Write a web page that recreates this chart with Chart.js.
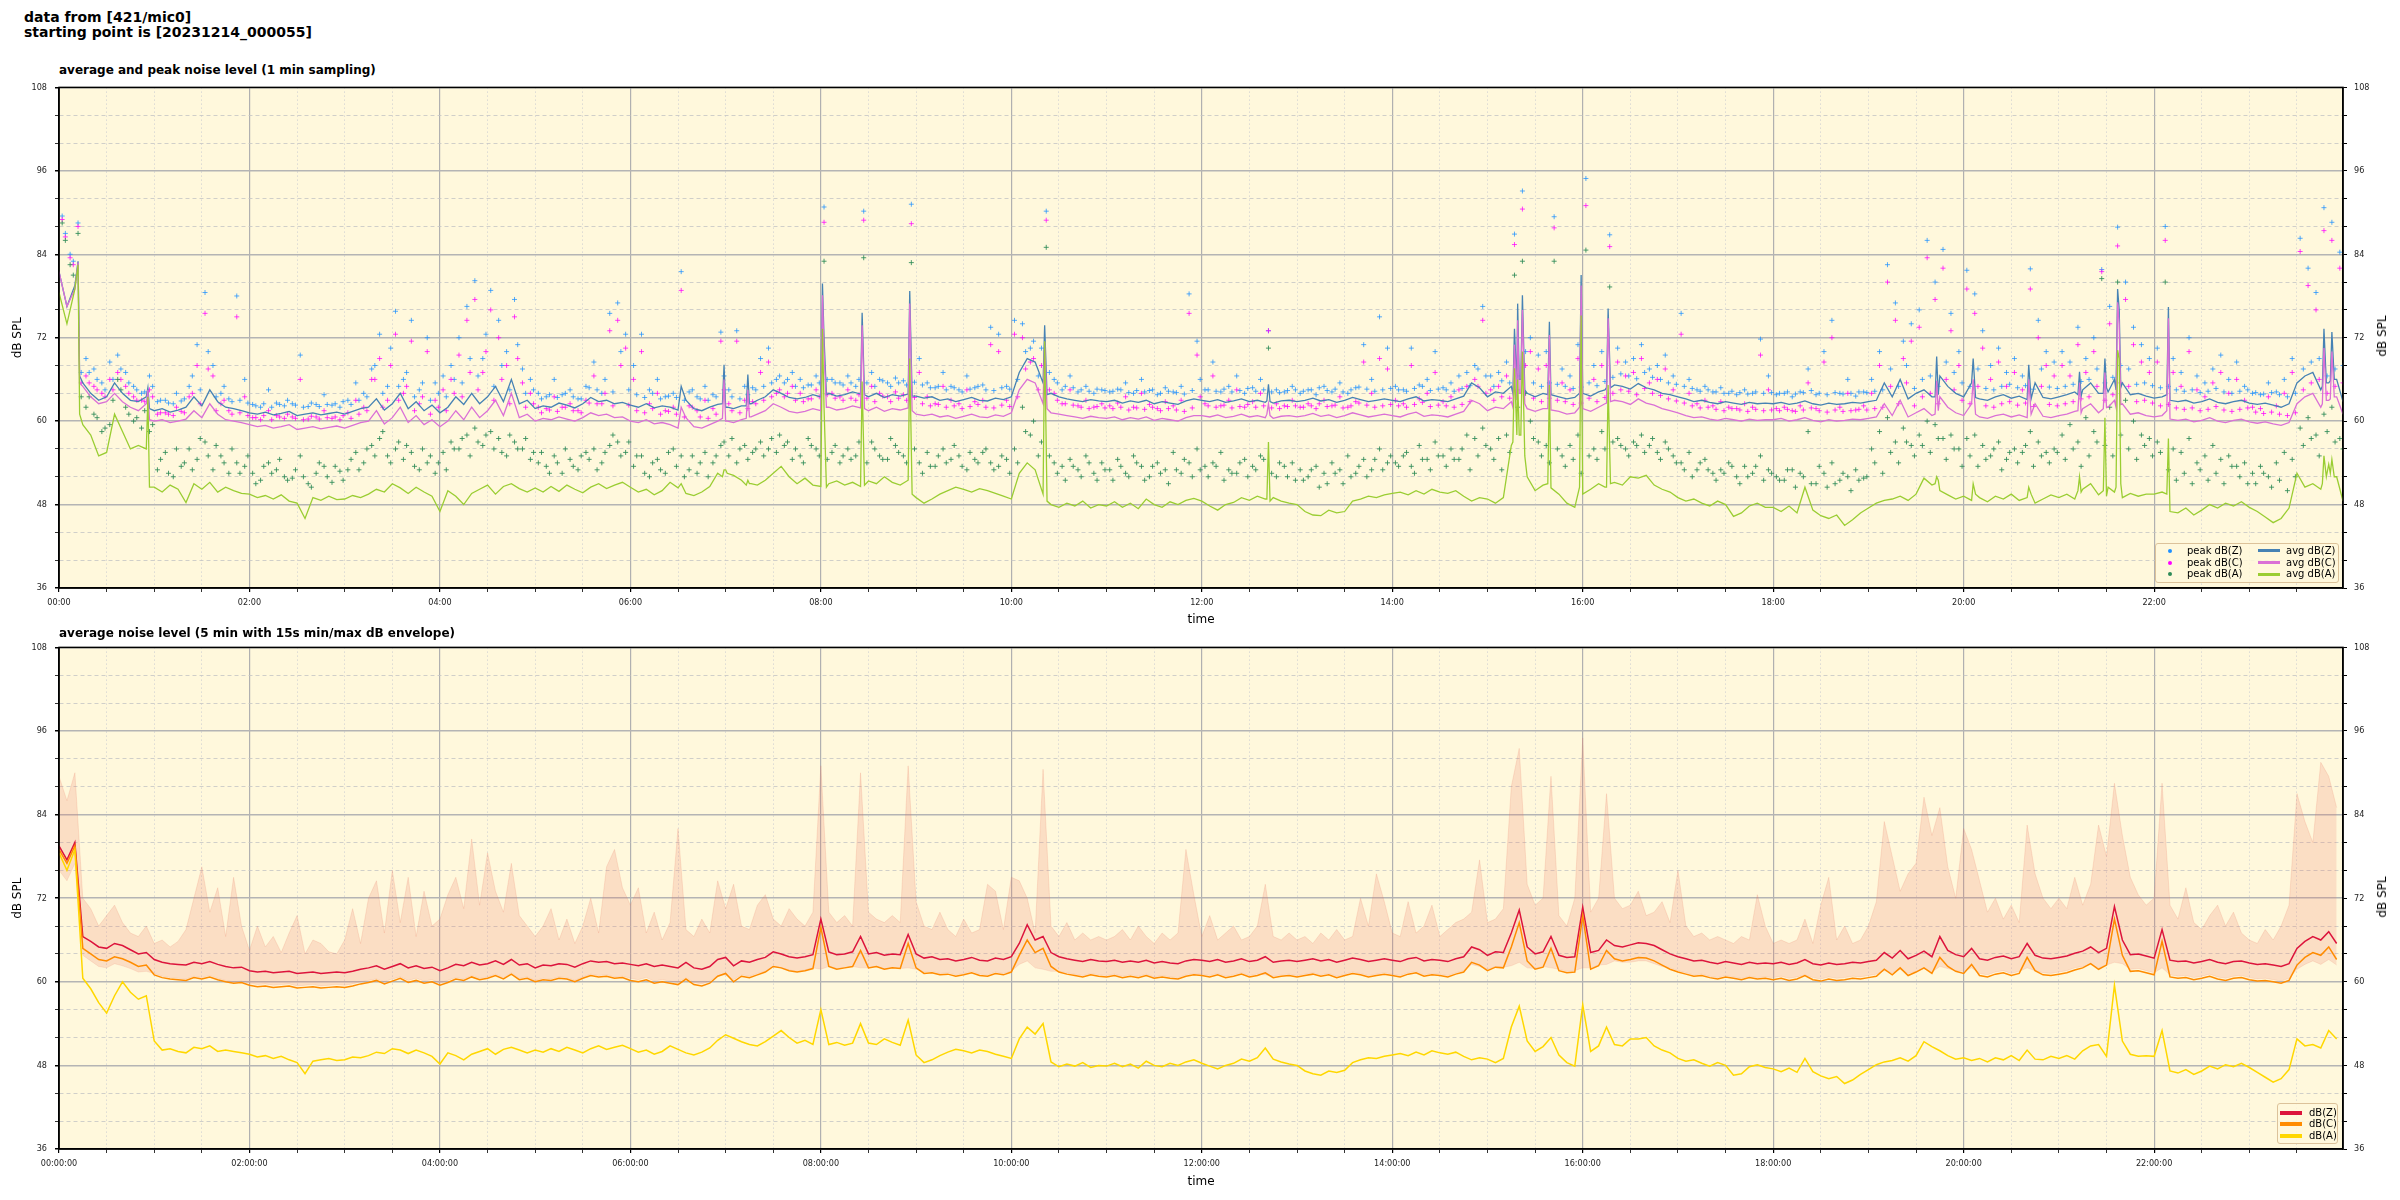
<!DOCTYPE html>
<html>
<head>
<meta charset="utf-8">
<script src="https://cdn.jsdelivr.net/npm/chart.js@4.4.1/dist/chart.umd.min.js"></script>
<style>
  html, body { margin: 0; padding: 0; background: #fff; }
  body { width: 2400px; height: 1200px; position: relative; overflow: hidden; font-family: 'DejaVu Sans', sans-serif; color: #000; }
  canvas { position: absolute; left: 0; }
  #head { position: absolute; left: 24px; top: 10px; font-weight: bold; font-size: 14px; line-height: 15px; white-space: pre; }
  .ttl { position: absolute; left: 59px; font-weight: bold; font-size: 12px; line-height: 14px; white-space: nowrap; }
  .ylab { position: absolute; font-size: 12px; white-space: nowrap; transform: translate(-50%, -50%) rotate(-90deg); }
  .leg { position: absolute; background: rgba(255, 248, 220, 0.85); border: 1px solid #dcc29a; border-radius: 3px; box-sizing: border-box; }
  .leg span { position: absolute; }
  .leg .t { font-size: 10px; line-height: 12px; white-space: nowrap; }
  .leg .d { width: 4px; height: 4px; border-radius: 50%; }
</style>
</head>
<body>
<div id="head">data from [421/mic0]
starting point is [20231214_000055]</div>
<div class="ttl" style="top:63px">average and peak noise level (1 min sampling)</div>
<canvas id="top" width="2400" height="560" style="top:74px"></canvas>
<div class="ylab" style="left:2382px;top:336px">dB SPL</div>
<div class="leg" style="left:2155px;top:543px;width:184px;height:40px">
  <span class="d" style="left:12px;top:4.5px;background:#1e90ff"></span><span class="t" style="left:31px;top:0.5px">peak dB(Z)</span>
  <span class="d" style="left:12px;top:16.5px;background:#ff00ff"></span><span class="t" style="left:31px;top:12.5px">peak dB(C)</span>
  <span class="d" style="left:12px;top:28.3px;background:#2e8b57"></span><span class="t" style="left:31px;top:24.3px">peak dB(A)</span>
  <span style="left:102px;top:5px;width:22px;height:3px;background:#4682b4"></span><span class="t" style="left:130px;top:0.5px">avg dB(Z)</span>
  <span style="left:102px;top:17px;width:22px;height:3px;background:#da70d6"></span><span class="t" style="left:130px;top:12.5px">avg dB(C)</span>
  <span style="left:102px;top:28.8px;width:22px;height:3px;background:#9acd32"></span><span class="t" style="left:130px;top:24.3px">avg dB(A)</span>
</div>
<div class="ttl" style="top:626px">average noise level (5 min with 15s min/max dB envelope)</div>
<canvas id="bottom" width="2400" height="566" style="top:634px"></canvas>
<div class="ylab" style="left:2382px;top:897px">dB SPL</div>
<div class="leg" style="left:2277px;top:1103px;width:61px;height:41px">
  <span style="left:2px;top:6.5px;width:22px;height:4px;background:#dc143c"></span><span class="t" style="left:31px;top:2.5px">dB(Z)</span>
  <span style="left:2px;top:18px;width:22px;height:4px;background:#ff8c00"></span><span class="t" style="left:31px;top:14px">dB(C)</span>
  <span style="left:2px;top:29.5px;width:22px;height:4px;background:#ffd700"></span><span class="t" style="left:31px;top:25.5px">dB(A)</span>
</div>
<script>
// 1 min chart: averages read every 5 min (00:00 .. 23:55)
const avgZ = [
  81.5, 76.5, 79.5, 65.5, 64.0, 63.0, 63.5, 65.5, 64.0, 63.0, 62.8, 63.5,
  61.5, 61.8, 61.3, 61.6, 62.0, 63.5, 62.2, 64.5, 62.8, 62.0, 61.8, 61.5,
  61.2, 61.0, 61.3, 60.9, 61.1, 61.4, 60.8, 61.0, 61.2, 60.9, 61.1, 61.3,
  61.0, 61.4, 61.8, 62.0, 63.2, 61.6, 62.5, 64.0, 61.8, 62.8, 61.5, 62.3,
  61.2, 62.0, 63.5, 62.4, 64.0, 62.5, 63.5, 65.0, 62.8, 66.0, 62.5, 63.0,
  61.8, 62.2, 62.0, 62.6, 62.3, 61.9, 62.5, 63.4, 62.8, 63.0, 62.5, 62.7,
  62.3, 62.0, 62.5, 61.9, 62.2, 62.0, 61.6, 63.0, 61.8, 61.5, 62.0, 62.4,
  62.0, 61.8, 62.2, 62.5, 63.0, 63.5, 64.5, 64.0, 63.4, 63.2, 63.4, 63.8,
  63.5, 64.0, 63.6, 63.8, 64.2, 63.9, 63.5, 64.0, 63.4, 63.8, 63.6, 63.9,
  63.6, 63.3, 63.5, 63.0, 63.2, 62.8, 63.1, 63.4, 63.0, 62.9, 63.3, 63.1,
  63.5, 67.0, 69.0, 68.5, 65.5, 64.0, 63.5, 63.2, 63.0, 62.8, 63.1, 62.9,
  62.8, 63.0, 62.6, 62.9, 62.7, 63.0, 62.5, 62.8, 62.6, 62.4, 62.9, 63.2,
  63.0, 62.8, 63.1, 62.7, 62.9, 63.2, 62.8, 63.0, 62.7, 62.6, 62.9, 63.0,
  62.8, 63.0, 63.3, 62.9, 63.1, 62.7, 63.0, 63.4, 63.1, 62.8, 63.0, 63.2,
  63.0, 62.8, 63.2, 63.5, 62.9, 63.1, 63.0, 62.8, 63.2, 63.6, 65.5, 64.8,
  63.5, 64.2, 64.0, 65.0, 66.0, 64.0, 63.5, 64.0, 63.8, 63.5, 63.2, 63.4,
  64.0, 63.6, 64.2, 64.8, 65.2, 65.0, 64.6, 65.4, 64.8, 64.5, 64.0, 63.8,
  63.5, 63.2, 62.8, 63.0, 62.7, 62.5, 62.8, 62.6, 62.4, 62.7, 62.5, 62.6,
  62.5, 62.7, 62.4, 62.6, 62.9, 62.5, 62.3, 62.6, 62.4, 62.5, 62.7, 62.6,
  62.8, 63.0, 65.5, 63.5, 66.0, 63.2, 64.0, 64.5, 63.5, 66.5, 65.0, 64.0,
  63.5, 65.5, 63.2, 63.0, 63.5, 63.8, 63.3, 63.6, 63.1, 65.5, 63.4, 63.2,
  63.5, 63.8, 64.2, 64.5, 65.5, 64.0, 64.8, 66.0, 65.5, 63.8, 64.0, 63.6,
  63.3, 63.5, 63.0, 62.8, 63.0, 62.6, 62.8, 63.2, 62.7, 62.5, 62.8, 63.0,
  62.6, 62.4, 62.6, 62.3, 62.0, 62.5, 65.5, 66.5, 67.0, 64.5, 65.5, 66.0
];
const avgC = [
  81.5, 76.5, 79.0, 65.0, 63.5, 62.5, 62.8, 64.0, 62.8, 62.0, 61.5, 62.5,
  60.0, 60.2, 59.8, 60.0, 60.3, 61.5, 60.5, 62.5, 61.0, 60.2, 60.0, 59.8,
  59.5, 59.2, 59.4, 59.0, 59.2, 59.5, 58.8, 59.0, 59.2, 58.9, 59.1, 59.3,
  59.0, 59.4, 59.8, 60.0, 61.5, 59.6, 60.5, 62.0, 59.8, 60.8, 59.5, 60.2,
  59.2, 60.0, 61.5, 60.2, 62.0, 60.5, 61.5, 63.0, 60.8, 64.0, 60.5, 61.0,
  60.0, 60.4, 60.2, 60.6, 60.3, 60.0, 60.5, 61.2, 60.8, 61.0, 60.5, 60.6,
  60.0, 59.8, 60.2, 59.6, 59.8, 59.5, 59.0, 60.5, 59.2, 59.0, 59.5, 60.0,
  60.0, 59.8, 60.2, 60.6, 61.0, 61.5, 62.5, 62.0, 61.4, 61.2, 61.4, 61.8,
  61.5, 62.0, 61.6, 61.8, 62.2, 61.9, 61.5, 62.0, 61.4, 61.8, 61.6, 61.9,
  61.0, 60.8, 61.0, 60.6, 60.8, 60.4, 60.7, 61.0, 60.6, 60.5, 60.9, 60.7,
  61.2, 64.5, 66.0, 65.5, 62.5, 61.2, 61.0, 60.8, 60.6, 60.4, 60.7, 60.5,
  60.4, 60.6, 60.2, 60.5, 60.3, 60.6, 60.1, 60.4, 60.2, 60.0, 60.5, 60.8,
  60.8, 60.6, 60.9, 60.5, 60.7, 61.0, 60.6, 60.8, 60.5, 60.4, 60.7, 60.8,
  60.6, 60.8, 61.1, 60.7, 60.9, 60.5, 60.8, 61.2, 60.9, 60.6, 60.8, 61.0,
  60.8, 60.6, 61.0, 61.3, 60.7, 60.9, 60.8, 60.6, 61.0, 61.4, 63.0, 62.5,
  61.5, 62.0, 61.8, 62.8, 64.0, 61.8, 61.4, 61.8, 61.6, 61.4, 61.0, 61.2,
  61.8, 61.4, 62.0, 62.6, 63.0, 62.8, 62.4, 63.2, 62.6, 62.3, 61.8, 61.5,
  61.2, 60.8, 60.5, 60.6, 60.3, 60.1, 60.4, 60.2, 60.0, 60.3, 60.1, 60.2,
  60.2, 60.4, 60.0, 60.2, 60.5, 60.1, 59.9, 60.2, 60.0, 60.1, 60.3, 60.2,
  60.4, 60.6, 62.5, 60.8, 63.0, 60.6, 61.2, 61.8, 60.8, 63.5, 62.0, 61.2,
  60.8, 62.5, 60.6, 60.4, 60.8, 61.0, 60.6, 60.9, 60.5, 62.5, 60.7, 60.5,
  60.8, 61.0, 61.4, 61.8, 62.5, 61.2, 62.0, 63.0, 62.5, 61.0, 61.2, 60.8,
  60.6, 60.8, 60.3, 60.1, 60.3, 59.9, 60.1, 60.5, 60.0, 59.8, 60.1, 60.3,
  59.9, 59.7, 59.9, 59.6, 59.4, 59.8, 62.5, 63.5, 64.0, 62.0, 63.0, 63.5
];
const avgA = [
  78.5, 74.0, 79.0, 59.5, 58.0, 55.0, 55.5, 61.0, 58.5, 56.0, 56.5, 56.0,
  50.5, 49.8, 50.8, 50.2, 48.3, 51.0, 50.2, 51.2, 49.8, 50.5, 50.0, 49.6,
  49.5, 49.0, 49.3, 48.8, 49.4, 48.5, 48.2, 46.0, 49.0, 48.6, 49.2, 48.7,
  48.8, 49.3, 49.0, 49.5, 50.2, 49.8, 51.0, 50.4, 49.6, 50.5, 49.8, 49.2,
  47.0, 50.0, 49.2, 48.0, 49.6, 50.2, 50.8, 49.5, 50.6, 51.0, 50.3, 49.8,
  50.4, 49.8, 50.6, 49.9, 50.8, 50.2, 49.7, 50.5, 51.0, 50.3, 50.8, 51.2,
  50.5, 49.8, 50.2, 49.4, 50.0, 51.2, 50.4, 49.6, 49.3, 49.8, 50.6, 52.5,
  53.0, 52.2, 51.5, 51.0, 50.8, 51.5, 52.5, 53.5, 52.0, 51.0, 51.8, 50.8,
  50.6, 51.0, 51.4, 50.8, 51.2, 50.6, 51.4, 51.0, 52.0, 51.2, 50.8, 51.5,
  49.0, 48.2, 48.8, 49.5, 50.0, 50.5, 50.2, 49.8, 50.3, 50.0, 49.6, 49.2,
  48.8, 52.5, 54.0, 53.0, 49.5, 48.0, 47.6, 48.2, 47.8, 48.5, 47.5, 48.0,
  47.8, 48.4, 47.6, 48.2, 47.4, 48.8, 48.0, 47.6, 48.4, 48.0, 48.6, 48.9,
  48.5, 47.8, 47.2, 48.0, 48.3, 49.0, 48.6, 49.2, 48.8, 49.0, 48.5, 48.2,
  48.0, 47.0, 46.5, 46.4, 47.2, 46.8, 47.0, 48.5, 48.8, 49.2, 49.0, 49.4,
  49.6, 49.8, 49.4, 50.0, 49.5, 50.2, 49.8, 49.6, 50.0, 49.2, 48.5, 49.0,
  48.8, 48.2, 49.0, 56.5, 58.0, 52.0, 50.0, 50.8, 50.4, 49.5, 48.2, 47.6,
  49.5, 50.2, 51.0, 50.5, 51.2, 50.8, 52.0, 51.8, 52.2, 50.8, 50.2, 49.8,
  49.0, 48.5, 48.8, 48.2, 47.8, 48.5, 48.0, 46.3, 46.8, 47.8, 48.2, 47.6,
  47.6, 47.0, 47.8, 46.8, 50.5, 47.2, 46.4, 46.0, 46.5, 45.0, 45.8, 46.8,
  47.5, 48.2, 48.6, 48.8, 49.2, 48.6, 49.5, 51.8, 50.8, 50.0, 49.4, 48.8,
  49.2, 48.6, 49.0, 48.4, 49.2, 48.8, 49.5, 48.6, 49.0, 48.2, 48.8, 49.4,
  49.0, 49.5, 48.8, 50.2, 51.0, 49.4, 49.2, 49.8, 49.0, 49.6, 49.2, 49.5,
  49.5, 49.8, 47.0, 46.8, 47.5, 46.5, 47.2, 48.0, 47.5, 48.2, 47.8, 48.4,
  47.6, 47.0, 46.2, 45.4, 46.0, 47.5, 52.5, 50.5, 51.0, 50.2, 53.8, 52.0
];
// short loud events in the 1 min averages (minute of day, then dB values)
const spikeTimes = [12, 13, 56, 57, 392, 418, 419, 421, 433, 434, 436, 481, 482, 483.5, 506, 507.5, 536, 537.5,
  621, 622.5, 761, 762, 763, 916, 917, 918.5, 919, 921, 922, 923.5, 938, 939, 958, 959, 974, 976, 977.5,
  1182, 1183, 1184, 1206, 1207.5, 1241, 1242.5, 1272, 1273, 1274, 1288, 1289, 1291, 1296, 1297, 1298, 1299,
  1328, 1329, 1426, 1427, 1428.5, 1431, 1432, 1433.5, 1439];
const spikeZ = [83.0, 66.5, 64.8, 61.8, 65.0, 62.5, 68.1, 62.0, 62.2, 66.7, 62.5, 79.8, 72.0, 63.8, 75.6, 63.8, 78.7, 63.6,
  73.8, 63.8, 62.9, 65.3, 62.8, 64.0, 73.3, 65.0, 76.9, 66.0, 78.1, 64.5, 63.8, 74.3, 64.0, 81.0, 64.5, 76.2, 64.8,
  63.5, 69.3, 63.8, 69.0, 63.4, 68.1, 63.2, 63.8, 67.1, 63.6, 64.0, 69.0, 64.2, 64.5, 79.0, 76.0, 64.8,
  63.8, 76.4, 65.0, 73.3, 65.5, 65.8, 72.8, 66.0, 62.8];
const spikeC = [82.8, 65.5, 64.5, 60.2, 62.0, 60.4, 66.0, 60.0, 60.4, 64.5, 60.6, 78.1, 70.0, 62.0, 73.8, 61.8, 76.9, 61.5,
  71.4, 61.8, 61.0, 62.5, 60.8, 62.0, 71.0, 63.0, 74.5, 64.0, 76.0, 62.5, 61.8, 72.4, 62.0, 79.5, 62.5, 74.8, 62.8,
  61.0, 65.8, 61.5, 66.0, 61.0, 66.0, 61.0, 61.5, 65.5, 61.2, 61.8, 67.0, 62.0, 62.0, 77.1, 74.0, 62.4,
  61.5, 74.8, 62.5, 70.5, 63.0, 63.2, 70.0, 63.5, 61.0];
const spikeA = [82.5, 61.0, 63.5, 50.5, 51.0, 52.0, 53.0, 52.5, 50.8, 51.5, 51.0, 73.3, 62.0, 50.5, 65.7, 50.8, 69.0, 49.5,
  71.5, 48.5, 48.8, 57.0, 48.5, 57.0, 67.6, 58.0, 66.0, 58.0, 70.0, 55.0, 51.0, 65.2, 50.5, 75.2, 50.5, 65.2, 51.0,
  51.0, 52.0, 51.5, 51.0, 49.5, 50.5, 49.5, 50.0, 52.0, 49.8, 50.0, 60.5, 50.5, 50.5, 70.2, 69.0, 51.0,
  49.5, 57.5, 51.0, 55.0, 52.0, 52.5, 54.5, 52.0, 48.5];
// 1 min peaks, first reading every 5 min (00:02 .. 23:57)
const peakZ = [
  89.5, 84.0, 88.5, 69.0, 67.5, 65.5, 68.5, 69.5, 67.0, 65.0, 64.0, 66.5,
  62.8, 63.0, 62.5, 62.9, 65.0, 71.0, 78.5, 68.0, 64.0, 63.2, 78.0, 66.0,
  62.4, 62.0, 64.5, 62.6, 62.2, 62.5, 69.5, 62.1, 62.4, 63.8, 62.3, 62.0,
  63.0, 65.5, 64.0, 67.5, 72.5, 65.0, 75.8, 66.0, 74.5, 64.5, 72.0, 65.5,
  66.5, 68.0, 72.0, 76.5, 80.2, 69.0, 78.8, 74.5, 70.0, 77.5, 67.5, 66.0,
  64.0, 63.5, 66.0, 63.8, 64.5, 63.2, 65.0, 68.5, 64.0, 75.5, 77.0, 72.5,
  68.0, 72.5, 64.5, 66.0, 63.5, 64.0, 81.5, 64.2, 63.5, 65.0, 63.8, 72.8,
  64.5, 73.0, 65.0, 64.8, 69.0, 70.5, 66.0, 65.5, 67.0, 66.0, 65.2, 66.5,
  90.8, 66.0, 65.5, 66.5, 65.0, 90.2, 67.0, 66.0, 65.5, 66.2, 65.8, 91.2,
  69.0, 65.5, 64.8, 67.0, 65.0, 64.5, 66.5, 64.8, 65.2, 73.5, 72.5, 65.0,
  74.5, 74.0, 70.5, 66.5, 90.2, 66.0, 64.5, 66.5, 64.2, 65.0, 64.0, 64.5,
  64.2, 64.6, 65.5, 64.0, 66.0, 64.4, 63.8, 64.8, 64.2, 65.0, 78.3, 71.5,
  64.5, 68.5, 64.2, 65.0, 66.5, 64.0, 64.8, 66.0, 73.0, 64.5, 64.2, 65.0,
  64.0, 64.5, 63.8, 65.0, 64.2, 65.5, 64.0, 64.8, 71.0, 66.0, 75.0, 70.5,
  65.0, 64.5, 70.5, 65.2, 66.0, 70.0, 64.8, 65.5, 66.5, 67.0, 68.0, 76.5,
  66.5, 67.0, 68.5, 86.9, 93.1, 72.0, 69.5, 70.0, 89.4, 67.5, 66.5, 71.0,
  94.9, 68.0, 70.0, 86.8, 70.5, 68.5, 69.0, 71.0, 67.5, 68.0, 69.5, 66.5,
  75.5, 66.0, 64.5, 65.0, 64.2, 64.8, 64.0, 63.8, 64.5, 64.0, 71.8, 66.5,
  63.8, 64.0, 63.5, 64.2, 67.5, 63.8, 70.0, 74.5, 64.0, 66.0, 63.6, 64.2,
  66.0, 70.0, 82.5, 77.0, 71.5, 74.0, 76.0, 86.0, 80.0, 84.7, 75.5, 70.0,
  81.7, 78.3, 73.0, 68.0, 70.5, 67.0, 69.0, 66.5, 81.9, 74.5, 70.0, 68.5,
  70.0, 68.5, 73.5, 69.0, 72.0, 81.8, 76.5, 87.9, 80.0, 73.5, 71.0, 69.0,
  70.5, 88.0, 69.0, 67.0, 72.0, 66.5, 65.5, 67.5, 69.5, 66.0, 68.5, 65.0,
  64.0, 63.8, 65.5, 64.2, 66.0, 69.0, 86.3, 82.0, 78.5, 90.7, 88.6, 84.3
];
const peakC = [
  89.0, 83.5, 88.0, 66.5, 65.0, 64.0, 66.0, 67.0, 65.0, 63.5, 63.0, 64.5,
  61.0, 61.2, 60.8, 61.4, 63.5, 68.0, 75.5, 66.5, 62.5, 61.5, 75.0, 63.5,
  60.5, 60.2, 61.5, 60.8, 60.4, 60.6, 66.0, 60.3, 60.6, 61.5, 60.4, 60.2,
  61.2, 63.0, 62.0, 66.0, 69.0, 63.0, 72.5, 64.0, 71.5, 62.5, 70.0, 63.0,
  64.5, 66.0, 69.5, 74.5, 77.5, 67.0, 76.0, 72.0, 68.0, 75.0, 65.5, 64.0,
  62.0, 61.8, 63.5, 62.0, 62.5, 61.5, 63.0, 66.5, 62.5, 73.0, 74.5, 70.5,
  66.0, 70.0, 62.5, 64.0, 61.5, 62.0, 78.8, 62.2, 61.5, 63.0, 61.8, 71.5,
  62.5, 71.5, 63.0, 62.8, 67.0, 68.5, 64.0, 63.5, 65.0, 64.0, 63.2, 64.5,
  88.6, 64.0, 63.5, 64.5, 63.0, 88.9, 65.0, 64.0, 63.5, 64.2, 63.8, 88.4,
  67.0, 63.5, 62.5, 65.0, 63.0, 62.5, 64.5, 62.8, 63.0, 71.0, 70.0, 63.0,
  72.5, 72.0, 68.5, 64.5, 88.9, 64.0, 62.5, 64.5, 62.2, 63.0, 62.0, 62.5,
  62.2, 62.6, 63.5, 62.0, 64.0, 62.4, 61.8, 62.8, 62.2, 63.0, 75.5, 69.5,
  62.5, 66.5, 62.2, 63.0, 64.5, 62.0, 62.8, 64.0, 73.0, 62.5, 62.2, 63.0,
  62.0, 62.5, 61.8, 63.0, 62.2, 63.5, 62.0, 62.8, 68.5, 64.0, 69.0, 67.5,
  63.0, 62.5, 68.0, 63.2, 64.0, 67.0, 62.8, 63.5, 64.5, 65.0, 66.0, 74.5,
  64.5, 65.0, 66.5, 85.4, 90.5, 70.0, 67.5, 68.0, 87.8, 65.5, 64.5, 69.0,
  91.0, 66.0, 68.0, 85.1, 68.5, 66.5, 67.0, 69.0, 65.5, 66.0, 67.5, 64.5,
  72.5, 64.0, 62.5, 63.0, 62.2, 62.8, 62.0, 61.8, 62.5, 62.0, 69.5, 64.5,
  61.8, 62.0, 61.5, 62.2, 65.5, 61.8, 68.5, 72.0, 62.0, 64.0, 61.6, 62.2,
  64.0, 68.0, 80.0, 74.5, 69.0, 71.5, 73.5, 83.5, 77.5, 82.0, 73.0, 68.0,
  79.0, 75.5, 70.5, 66.0, 68.5, 65.0, 67.0, 64.5, 79.0, 72.0, 68.0, 66.5,
  68.0, 66.5, 71.0, 67.0, 70.0, 81.5, 74.0, 85.2, 77.5, 71.0, 68.5, 67.0,
  68.5, 86.0, 67.0, 65.0, 70.0, 64.5, 63.5, 65.5, 67.0, 64.0, 66.0, 63.0,
  62.0, 61.8, 63.5, 62.2, 64.0, 67.0, 84.4, 79.5, 76.0, 87.4, 86.0, 82.0
];
const peakA = [
  88.5, 82.5, 87.0, 62.0, 61.0, 58.5, 59.5, 66.0, 62.0, 60.0, 59.0, 58.5,
  53.0, 55.5, 52.0, 53.5, 56.0, 54.5, 57.0, 53.0, 55.0, 52.5, 54.0, 53.5,
  52.5, 51.5, 54.0, 53.0, 52.0, 51.8, 55.0, 51.0, 52.5, 53.5, 51.2, 52.8,
  53.0, 55.5, 54.0, 56.5, 57.5, 55.0, 56.0, 54.5, 55.5, 53.0, 54.0, 52.5,
  55.5, 57.0, 56.0, 58.0, 59.0, 56.5, 58.5, 57.5, 55.0, 57.0, 56.0, 54.5,
  54.0, 53.5, 55.0, 52.5, 54.5, 53.0, 55.5, 56.0, 54.0, 56.5, 57.0, 55.5,
  53.5, 55.0, 52.0, 54.5, 52.5, 56.0, 55.0, 53.0, 52.5, 55.5, 54.0, 56.5,
  55.0, 54.0, 56.5, 55.5, 57.0, 56.0, 55.5, 56.5, 54.5, 55.0, 57.5, 56.0,
  83.0, 55.5, 54.0, 56.0, 55.0, 83.5, 57.0, 55.0, 54.5, 56.5, 55.0, 82.8,
  54.0, 55.5, 53.5, 56.0, 54.5, 55.0, 53.0, 54.5, 55.5, 54.0, 53.5, 54.5,
  56.0, 62.0, 58.0, 55.0, 85.0, 54.0, 53.5, 54.5, 53.0, 55.0, 52.5, 54.0,
  53.0, 54.5, 52.5, 55.0, 53.5, 52.0, 54.0, 53.0, 55.5, 52.5, 54.0, 56.0,
  53.5, 54.0, 55.5, 53.0, 52.5, 54.5, 53.5, 55.0, 70.5, 52.0, 53.5, 54.0,
  53.0, 52.0, 53.5, 52.5, 54.0, 53.0, 55.0, 52.5, 54.5, 53.0, 56.0, 54.0,
  54.0, 55.0, 53.5, 56.5, 54.5, 57.0, 55.0, 56.0, 54.5, 58.0, 57.5, 59.0,
  56.0, 57.5, 58.0, 81.0, 83.0, 60.0, 57.0, 56.5, 83.0, 55.0, 56.5, 58.0,
  84.6, 56.0, 58.5, 79.3, 57.5, 56.0, 57.0, 58.0, 56.5, 55.5, 57.0, 55.0,
  54.0, 55.5, 53.0, 54.5, 52.5, 53.0, 54.0, 52.0, 53.5, 52.5, 55.0, 53.0,
  52.0, 51.5, 53.0, 52.5, 58.5, 51.0, 52.5, 54.0, 51.5, 52.0, 53.0, 51.8,
  56.0, 58.5, 60.5, 57.0, 59.0, 56.5, 58.0, 60.0, 59.5, 57.5, 58.0, 56.0,
  57.5, 58.0, 56.5, 55.0, 57.0, 54.5, 56.0, 55.5, 58.5, 57.0, 55.5, 56.0,
  58.0, 59.5, 57.0, 60.5, 58.5, 80.5, 62.0, 80.0, 63.0, 60.0, 58.0, 57.5,
  57.0, 80.0, 56.0, 55.5, 57.5, 54.0, 55.0, 56.5, 54.5, 55.0, 53.5, 54.0,
  52.5, 53.5, 52.0, 54.0, 55.5, 54.5, 59.0, 60.5, 58.0, 61.0, 62.0, 57.5
];
// 1 min peaks, second reading every 5 min (00:04 .. 23:59)
const peakZ2 = [
  87.0, 83.0, 67.0, 67.0, 66.0, 64.5, 66.0, 67.5, 65.5, 64.5, 64.2, 65.0,
  63.0, 62.6, 64.0, 63.2, 66.5, 64.5, 70.0, 63.5, 65.0, 62.8, 63.0, 62.6,
  62.2, 62.5, 62.0, 62.4, 63.0, 62.3, 62.0, 62.6, 62.1, 62.4, 62.5, 62.8,
  62.4, 63.0, 63.5, 68.0, 64.0, 70.5, 65.0, 67.0, 63.5, 65.5, 63.0, 64.0,
  63.5, 66.0, 65.5, 69.0, 66.5, 72.5, 65.0, 68.0, 64.5, 71.0, 64.0, 64.5,
  63.2, 63.8, 63.4, 64.0, 63.5, 63.2, 64.8, 64.5, 66.0, 64.2, 70.0, 64.5,
  63.8, 63.4, 64.0, 63.2, 63.6, 63.4, 63.0, 64.5, 63.2, 63.0, 63.5, 66.5,
  63.5, 63.2, 63.8, 64.5, 65.0, 65.5, 66.5, 66.0, 65.0, 64.8, 65.2, 65.5,
  66.0, 65.5, 65.2, 65.5, 66.0, 65.5, 65.0, 65.8, 65.0, 65.5, 65.2, 65.6,
  65.2, 64.8, 65.0, 64.5, 64.8, 64.2, 64.6, 65.0, 64.5, 64.4, 64.8, 64.6,
  66.0, 70.0, 71.5, 70.5, 67.0, 65.5, 65.0, 64.8, 64.5, 64.3, 64.6, 64.4,
  64.3, 64.5, 64.1, 64.4, 64.2, 64.5, 64.0, 64.3, 64.1, 63.9, 64.4, 66.0,
  64.5, 64.3, 64.6, 64.2, 64.4, 64.7, 64.3, 64.5, 64.2, 64.1, 64.4, 64.5,
  64.3, 64.5, 64.8, 64.4, 64.6, 64.2, 64.5, 64.9, 64.6, 64.3, 64.5, 64.7,
  64.5, 64.3, 64.7, 65.0, 64.4, 64.6, 64.5, 64.3, 64.7, 65.1, 67.5, 66.5,
  65.0, 65.8, 65.5, 66.5, 70.0, 65.5, 65.0, 65.5, 65.3, 65.0, 64.7, 64.9,
  65.5, 65.1, 65.7, 66.3, 66.8, 66.5, 66.1, 67.0, 66.3, 66.0, 65.5, 65.3,
  65.0, 64.7, 64.3, 64.5, 64.2, 64.0, 64.3, 64.1, 63.9, 64.2, 64.0, 64.1,
  64.0, 64.2, 63.9, 64.1, 64.4, 64.0, 63.8, 64.1, 63.9, 64.0, 64.2, 64.1,
  64.3, 64.5, 67.5, 65.0, 68.0, 64.7, 66.0, 66.5, 65.0, 68.5, 67.0, 65.5,
  65.0, 67.5, 64.7, 64.5, 65.0, 65.3, 64.8, 65.1, 64.6, 67.5, 64.9, 64.7,
  65.0, 65.3, 65.7, 66.0, 67.5, 65.5, 66.3, 68.0, 67.5, 65.3, 65.5, 65.1,
  64.8, 65.0, 64.5, 64.3, 64.5, 64.1, 64.3, 64.7, 64.2, 64.0, 64.3, 64.5,
  64.1, 63.9, 64.1, 63.8, 63.5, 64.0, 67.5, 68.5, 69.0, 66.5, 67.5, 68.0
];
const peakC2 = [
  86.5, 82.5, 65.5, 65.5, 64.5, 63.5, 64.5, 66.0, 64.0, 63.0, 62.8, 63.5,
  61.2, 61.0, 62.0, 61.2, 64.0, 62.5, 67.5, 61.5, 63.0, 61.0, 61.2, 60.8,
  60.5, 60.8, 60.2, 60.6, 61.0, 60.4, 60.2, 60.7, 60.3, 60.5, 60.6, 60.8,
  60.4, 61.0, 61.5, 66.0, 62.0, 68.0, 63.0, 65.0, 61.5, 63.5, 61.0, 62.0,
  61.5, 64.0, 63.5, 67.0, 64.5, 70.0, 63.0, 66.0, 62.5, 69.0, 62.0, 62.5,
  61.2, 61.6, 61.4, 62.0, 61.5, 61.2, 62.6, 62.5, 64.0, 62.2, 68.0, 62.3,
  61.5, 61.2, 61.8, 61.0, 61.4, 61.0, 60.6, 62.0, 60.6, 60.4, 61.0, 64.5,
  61.5, 61.2, 61.8, 62.5, 63.0, 63.5, 64.5, 64.0, 63.0, 62.8, 63.2, 63.5,
  63.8, 63.3, 63.0, 63.3, 63.8, 63.3, 62.8, 63.6, 62.8, 63.3, 63.0, 63.4,
  62.5, 62.2, 62.4, 62.0, 62.2, 61.8, 62.1, 62.4, 62.0, 61.9, 62.3, 62.1,
  63.5, 67.5, 69.0, 68.0, 64.5, 63.0, 62.5, 62.3, 62.0, 61.8, 62.1, 61.9,
  61.8, 62.0, 61.6, 61.9, 61.7, 62.0, 61.5, 61.8, 61.6, 61.4, 61.9, 63.5,
  62.2, 62.0, 62.3, 61.9, 62.1, 62.4, 62.0, 62.2, 61.9, 61.8, 62.1, 62.2,
  62.0, 62.2, 62.5, 62.1, 62.3, 61.9, 62.2, 62.6, 62.3, 62.0, 62.2, 62.4,
  62.2, 62.0, 62.4, 62.7, 62.1, 62.3, 62.2, 62.0, 62.4, 62.8, 65.0, 64.0,
  63.0, 63.5, 63.3, 64.5, 68.0, 63.3, 62.8, 63.3, 63.0, 62.8, 62.4, 62.6,
  63.3, 62.8, 63.4, 64.0, 64.5, 64.3, 63.8, 64.7, 64.0, 63.7, 63.2, 62.9,
  62.6, 62.2, 61.9, 62.0, 61.7, 61.5, 61.8, 61.6, 61.4, 61.7, 61.5, 61.6,
  61.5, 61.7, 61.4, 61.6, 61.9, 61.5, 61.3, 61.6, 61.4, 61.5, 61.7, 61.6,
  61.8, 62.0, 65.0, 62.5, 65.5, 62.2, 63.5, 64.0, 62.5, 66.0, 64.5, 63.0,
  62.5, 65.0, 62.2, 62.0, 62.5, 62.8, 62.3, 62.6, 62.1, 65.0, 62.4, 62.2,
  62.5, 62.8, 63.2, 63.5, 65.0, 63.0, 63.8, 65.5, 65.0, 62.8, 63.0, 62.6,
  62.2, 62.4, 61.9, 61.7, 61.9, 61.5, 61.7, 62.1, 61.6, 61.4, 61.7, 61.9,
  61.3, 61.1, 61.3, 61.0, 60.8, 61.2, 64.5, 65.5, 66.0, 64.0, 65.0, 65.5
];
const peakA2 = [
  86.0, 81.0, 63.5, 63.5, 60.5, 59.0, 63.0, 64.5, 61.0, 60.5, 61.5, 59.5,
  54.5, 52.5, 56.0, 54.0, 53.0, 57.5, 55.0, 56.5, 54.0, 56.0, 52.5, 55.0,
  51.0, 53.5, 52.5, 54.5, 51.5, 53.0, 52.0, 50.5, 54.0, 52.0, 53.5, 51.5,
  54.5, 53.0, 56.0, 55.0, 58.5, 54.0, 57.0, 56.5, 53.5, 56.0, 55.0, 54.0,
  53.0, 56.0, 57.5, 55.0, 57.0, 58.0, 56.0, 55.5, 58.0, 56.0, 57.5, 55.5,
  55.5, 52.5, 54.0, 56.0, 53.5, 55.0, 54.5, 53.0, 55.5, 58.0, 55.0, 57.0,
  55.0, 52.5, 54.0, 53.0, 55.5, 53.5, 52.0, 55.0, 54.0, 52.0, 55.0, 57.0,
  57.5, 56.0, 54.5, 56.0, 55.0, 57.5, 58.0, 57.0, 56.0, 54.0, 56.5, 55.0,
  54.5, 56.5, 55.0, 54.5, 57.0, 54.0, 56.0, 54.5, 57.5, 55.5, 54.0, 56.0,
  52.5, 53.5, 55.0, 54.0, 56.5, 53.5, 55.5, 54.0, 56.0, 53.0, 55.0, 52.5,
  54.0, 58.5, 60.0, 57.0, 55.0, 52.5, 51.5, 53.5, 52.0, 54.0, 51.5, 53.0,
  51.5, 53.5, 52.0, 54.0, 51.5, 53.5, 52.5, 51.0, 53.0, 54.5, 52.0, 53.0,
  52.0, 53.5, 51.5, 52.5, 54.0, 52.0, 53.0, 54.5, 52.5, 54.0, 52.0, 51.5,
  51.5, 53.0, 50.5, 51.0, 52.5, 51.0, 52.0, 53.5, 52.0, 54.5, 53.0, 55.0,
  53.5, 55.5, 52.5, 54.5, 53.0, 55.0, 53.5, 54.5, 56.0, 53.0, 55.0, 56.5,
  54.5, 53.0, 55.5, 62.0, 64.0, 57.5, 55.0, 54.0, 56.0, 53.5, 54.5, 52.5,
  55.0, 54.5, 56.0, 57.0, 56.5, 55.0, 56.5, 55.5, 57.5, 54.5, 56.0, 54.0,
  53.0, 52.0, 54.0, 53.0, 51.5, 52.5, 53.5, 51.0, 52.0, 53.5, 51.5, 52.5,
  51.5, 53.0, 50.5, 52.0, 51.0, 53.5, 50.5, 51.0, 52.5, 50.0, 51.5, 52.0,
  54.0, 52.5, 55.5, 54.0, 57.0, 55.0, 56.5, 55.5, 57.5, 54.5, 56.0, 53.5,
  55.0, 53.5, 54.5, 56.0, 53.0, 55.5, 54.0, 56.5, 53.5, 55.0, 54.0, 55.5,
  54.5, 56.0, 53.5, 55.0, 57.0, 56.5, 55.0, 58.0, 56.0, 54.5, 56.5, 55.0,
  55.5, 53.0, 51.5, 52.5, 51.0, 53.0, 51.5, 52.5, 51.0, 53.5, 52.0, 51.0,
  51.0, 52.5, 50.5, 51.5, 50.0, 52.0, 56.5, 57.5, 55.0, 58.5, 57.0, 56.0
];
// 5 min chart (00:00 .. 23:55)
const botZ = [
  79.5, 77.5, 80.0, 66.5, 65.8, 65.0, 64.8, 65.5, 65.2, 64.6, 64.0, 64.2,
  63.2, 62.8, 62.6, 62.5, 62.4, 62.8, 62.6, 62.9, 62.5, 62.2, 62.0, 62.1,
  61.6, 61.4, 61.5, 61.3, 61.4, 61.5, 61.2, 61.3, 61.4, 61.2, 61.3, 61.4,
  61.3, 61.5, 61.8, 62.0, 62.3, 61.8, 62.2, 62.6, 62.0, 62.3, 61.9, 62.1,
  61.6, 62.0, 62.5, 62.3, 62.8, 62.4, 62.6, 63.0, 62.5, 63.2, 62.4, 62.6,
  62.0, 62.4, 62.3, 62.6, 62.5, 62.1, 62.6, 63.0, 62.8, 62.9, 62.6, 62.7,
  62.5, 62.3, 62.6, 62.2, 62.4, 62.2, 62.0, 62.8, 62.0, 61.8, 62.2, 63.2,
  63.5, 62.3, 63.0, 62.8, 63.2, 63.5, 64.3, 64.0, 63.6, 63.4, 63.6, 63.9,
  69.0, 64.3, 63.9, 64.0, 64.3, 66.5, 64.0, 64.2, 63.8, 64.0, 63.9, 66.8,
  64.0, 63.4, 63.6, 63.2, 63.3, 63.0, 63.2, 63.5, 63.1, 63.0, 63.4, 63.2,
  63.6, 65.5, 68.2, 66.0, 66.5, 64.2, 63.6, 63.3, 63.1, 62.9, 63.2, 63.0,
  62.9, 63.1, 62.8, 63.0, 62.8, 63.1, 62.7, 62.9, 62.7, 62.6, 63.0, 63.2,
  63.1, 62.9, 63.2, 62.8, 63.0, 63.3, 62.9, 63.1, 63.6, 62.8, 63.0, 63.1,
  62.9, 63.1, 63.3, 63.0, 63.2, 62.8, 63.1, 63.4, 63.2, 62.9, 63.1, 63.3,
  63.1, 62.9, 63.3, 63.5, 63.0, 63.2, 63.1, 62.9, 63.3, 63.6, 65.0, 64.6,
  63.8, 64.3, 64.2, 67.0, 70.3, 65.0, 64.0, 64.3, 66.5, 63.8, 63.5, 63.6,
  70.7, 64.2, 64.5, 66.0, 65.2, 65.0, 65.3, 65.6, 65.5, 65.2, 64.6, 64.0,
  63.6, 63.3, 63.0, 63.1, 62.8, 62.6, 62.9, 62.7, 62.5, 62.8, 62.6, 62.7,
  62.6, 62.8, 62.5, 62.7, 63.2, 62.6, 62.4, 62.7, 62.5, 62.6, 62.8, 62.7,
  62.9, 63.1, 64.2, 63.4, 64.5, 63.3, 63.8, 64.4, 63.6, 66.5, 64.5, 63.9,
  63.6, 64.8, 63.3, 63.1, 63.5, 63.7, 63.3, 63.6, 65.5, 63.8, 63.4, 63.3,
  63.5, 63.7, 64.1, 64.4, 65.0, 64.2, 64.8, 70.8, 66.0, 63.9, 64.0, 63.7,
  63.4, 67.5, 63.1, 62.9, 63.0, 62.7, 62.9, 63.2, 62.8, 62.6, 62.9, 63.0,
  62.7, 62.5, 62.6, 62.4, 62.2, 62.6, 64.8, 65.8, 66.5, 66.0, 67.2, 65.5
];
const botC = [
  79.0, 77.0, 79.5, 64.8, 64.0, 63.2, 63.0, 63.6, 63.3, 62.8, 62.2, 62.4,
  61.0, 60.6, 60.4, 60.3, 60.2, 60.6, 60.4, 60.7, 60.3, 60.0, 59.8, 59.9,
  59.5, 59.3, 59.4, 59.2, 59.3, 59.4, 59.1, 59.2, 59.3, 59.1, 59.2, 59.3,
  59.2, 59.4, 59.7, 59.9, 60.2, 59.7, 60.1, 60.5, 59.9, 60.2, 59.8, 60.0,
  59.5, 59.9, 60.4, 60.2, 60.7, 60.3, 60.5, 60.9, 60.4, 61.1, 60.3, 60.5,
  60.0, 60.3, 60.2, 60.5, 60.4, 60.0, 60.5, 60.9, 60.7, 60.8, 60.5, 60.6,
  60.2, 60.0, 60.3, 59.8, 60.0, 59.8, 59.6, 60.4, 59.6, 59.4, 59.8, 60.8,
  61.2, 60.0, 60.8, 60.6, 61.0, 61.4, 62.2, 62.0, 61.6, 61.4, 61.6, 61.9,
  67.8, 62.2, 61.8, 62.0, 62.2, 64.5, 62.0, 62.2, 61.8, 62.0, 61.9, 65.5,
  62.0, 61.2, 61.3, 61.0, 61.1, 60.8, 61.0, 61.3, 60.9, 60.8, 61.2, 61.0,
  61.4, 63.8, 66.0, 64.2, 64.8, 62.2, 61.4, 61.1, 60.9, 60.7, 61.0, 60.8,
  60.7, 60.9, 60.6, 60.8, 60.6, 60.9, 60.5, 60.7, 60.5, 60.4, 60.8, 61.0,
  60.9, 60.7, 61.0, 60.6, 60.8, 61.1, 60.7, 60.9, 61.3, 60.6, 60.8, 60.9,
  60.7, 60.9, 61.1, 60.8, 61.0, 60.6, 60.9, 61.2, 61.0, 60.7, 60.9, 61.1,
  60.9, 60.7, 61.1, 61.3, 60.8, 61.0, 60.9, 60.7, 61.1, 61.4, 62.8, 62.4,
  61.6, 62.1, 62.0, 65.0, 68.5, 63.0, 61.8, 62.1, 64.8, 61.6, 61.3, 61.4,
  69.5, 61.8, 62.3, 64.5, 63.3, 63.0, 63.2, 63.5, 63.4, 63.0, 62.4, 61.8,
  61.4, 61.1, 60.8, 60.9, 60.6, 60.4, 60.7, 60.5, 60.3, 60.6, 60.4, 60.5,
  60.3, 60.5, 60.2, 60.4, 60.9, 60.3, 60.1, 60.4, 60.2, 60.3, 60.5, 60.4,
  60.6, 60.8, 61.8, 61.0, 62.0, 60.9, 61.4, 62.0, 61.2, 63.5, 62.2, 61.5,
  61.2, 62.5, 60.9, 60.7, 61.1, 61.3, 60.9, 61.2, 63.5, 61.6, 61.0, 60.9,
  61.1, 61.3, 61.7, 62.0, 62.6, 61.8, 62.4, 69.0, 63.8, 61.5, 61.6, 61.3,
  61.0, 65.8, 60.7, 60.5, 60.6, 60.3, 60.5, 60.8, 60.4, 60.2, 60.5, 60.6,
  60.3, 60.1, 60.2, 60.0, 59.8, 60.2, 62.4, 63.5, 64.2, 63.8, 65.0, 63.2
];
const botA = [
  78.5, 76.0, 79.0, 60.5, 59.0, 57.0, 55.5, 58.0, 60.0, 58.5, 57.5, 58.0,
  51.5, 50.2, 50.4, 50.0, 49.8, 50.6, 50.4, 50.8, 50.0, 50.2, 50.0, 49.8,
  49.6, 49.2, 49.4, 49.0, 49.3, 48.8, 48.4, 46.8, 48.6, 48.8, 49.0, 48.7,
  48.8, 49.2, 49.1, 49.4, 49.9, 49.7, 50.4, 50.2, 49.7, 50.2, 49.8, 49.3,
  48.2, 49.8, 49.4, 48.8, 49.6, 50.0, 50.4, 49.6, 50.3, 50.6, 50.2, 49.8,
  50.2, 49.9, 50.4, 50.0, 50.6, 50.2, 49.8, 50.4, 50.8, 50.3, 50.6, 50.9,
  50.4, 49.9, 50.2, 49.6, 50.0, 50.8, 50.3, 49.8, 49.5, 49.9, 50.5, 51.6,
  52.4, 51.9, 51.4, 51.0, 50.8, 51.4, 52.2, 53.0, 52.0, 51.2, 51.6, 51.0,
  56.0, 51.0, 51.3, 50.9, 51.2, 54.0, 51.2, 51.0, 51.8, 51.3, 50.9, 54.5,
  49.5, 48.4, 48.8, 49.4, 49.9, 50.3, 50.1, 49.8, 50.2, 50.0, 49.6, 49.3,
  49.0, 51.8, 53.5, 52.5, 54.0, 48.5, 47.8, 48.2, 47.9, 48.4, 47.7, 48.0,
  47.9, 48.3, 47.8, 48.2, 47.6, 48.6, 48.0, 47.8, 48.3, 48.0, 48.5, 48.8,
  48.3, 47.9, 47.5, 48.0, 48.3, 48.9, 48.6, 49.1, 50.5, 48.9, 48.5, 48.2,
  48.0, 47.2, 46.8, 46.6, 47.2, 47.0, 47.3, 48.4, 48.8, 49.1, 49.0, 49.3,
  49.5, 49.7, 49.4, 49.9, 49.5, 50.1, 49.8, 49.6, 49.9, 49.3, 48.8, 49.1,
  48.9, 48.4, 49.0, 53.5, 56.5, 51.5, 50.0, 50.7, 52.0, 49.5, 48.4, 47.9,
  56.7, 50.0, 50.8, 53.5, 51.0, 50.8, 51.8, 51.8, 52.0, 50.8, 50.2, 49.8,
  49.0, 48.6, 48.8, 48.3, 47.9, 48.4, 48.0, 46.6, 46.8, 47.8, 48.1, 47.7,
  47.5, 47.1, 47.6, 47.0, 49.0, 47.1, 46.5, 46.1, 46.4, 45.4, 45.9, 46.7,
  47.4, 48.1, 48.5, 48.7, 49.1, 48.6, 49.4, 51.4, 50.7, 50.1, 49.4, 48.9,
  49.1, 48.7, 49.0, 48.5, 49.1, 48.8, 49.4, 48.7, 50.2, 48.9, 48.8, 49.3,
  49.0, 49.4, 48.9, 50.1, 50.8, 51.0, 49.3, 59.5, 51.5, 49.6, 49.3, 49.4,
  49.3, 53.0, 47.2, 46.9, 47.4, 46.7, 47.2, 47.9, 47.5, 48.1, 47.8, 48.3,
  47.7, 47.0, 46.3, 45.6, 46.1, 47.4, 51.8, 50.8, 51.0, 50.5, 53.0, 51.8
];
// 15 s min/max envelope, read every 5 min
const envMin = [
  76.0, 74.5, 77.0, 63.8, 63.0, 62.2, 62.0, 62.6, 62.3, 61.9, 61.4, 61.5,
  61.2, 60.8, 60.6, 60.5, 60.4, 60.8, 60.6, 60.9, 60.5, 60.2, 60.0, 60.1,
  59.8, 59.6, 59.7, 59.5, 59.6, 59.7, 59.4, 59.5, 59.6, 59.4, 59.5, 59.6,
  59.5, 59.7, 60.0, 60.2, 60.4, 60.0, 60.4, 60.7, 60.2, 60.5, 60.1, 60.3,
  59.8, 60.2, 60.6, 60.4, 60.9, 60.5, 60.7, 61.1, 60.6, 61.3, 60.5, 60.7,
  60.2, 60.5, 60.4, 60.7, 60.6, 60.2, 60.7, 61.1, 60.9, 61.0, 60.7, 60.8,
  60.5, 60.3, 60.6, 60.1, 60.3, 60.1, 59.9, 60.6, 59.9, 59.7, 60.1, 60.9,
  61.0, 60.3, 61.0, 60.8, 61.2, 61.5, 62.2, 62.0, 61.7, 61.5, 61.7, 62.0,
  61.8, 62.2, 61.9, 62.0, 62.2, 62.0, 62.0, 62.2, 61.8, 62.0, 61.9, 62.0,
  61.8, 61.4, 61.5, 61.2, 61.3, 61.0, 61.2, 61.5, 61.1, 61.0, 61.4, 61.2,
  61.5, 62.5, 63.0, 62.0, 61.8, 61.5, 61.5, 61.3, 61.1, 60.9, 61.2, 61.0,
  60.9, 61.1, 60.8, 61.0, 60.8, 61.1, 60.7, 60.9, 60.7, 60.6, 61.0, 61.2,
  61.1, 60.9, 61.2, 60.8, 61.0, 61.3, 60.9, 61.1, 61.0, 60.8, 61.0, 61.1,
  60.9, 61.1, 61.3, 61.0, 61.2, 60.8, 61.1, 61.4, 61.2, 60.9, 61.1, 61.3,
  61.1, 60.9, 61.3, 61.5, 61.0, 61.2, 61.1, 60.9, 61.3, 61.6, 62.5, 62.2,
  61.8, 62.2, 62.1, 62.3, 62.8, 62.0, 61.9, 62.2, 62.0, 61.8, 61.5, 61.6,
  62.0, 62.0, 62.4, 62.5, 63.0, 62.8, 62.8, 63.0, 63.0, 62.6, 62.2, 62.0,
  61.6, 61.3, 61.0, 61.1, 60.8, 60.6, 60.9, 60.7, 60.5, 60.8, 60.6, 60.7,
  60.6, 60.8, 60.5, 60.7, 61.0, 60.6, 60.4, 60.7, 60.5, 60.6, 60.8, 60.7,
  60.9, 61.1, 61.6, 61.3, 61.8, 61.2, 61.5, 61.9, 61.4, 62.2, 61.9, 61.6,
  61.5, 62.0, 61.2, 61.0, 61.4, 61.6, 61.2, 61.5, 62.0, 61.6, 61.3, 61.2,
  61.4, 61.6, 62.0, 62.2, 62.5, 62.0, 62.4, 62.8, 62.6, 61.8, 61.9, 61.6,
  61.3, 62.0, 61.0, 60.8, 60.9, 60.6, 60.8, 61.1, 60.7, 60.5, 60.8, 60.9,
  60.6, 60.4, 60.5, 60.3, 60.1, 60.5, 61.8, 62.5, 63.0, 62.5, 63.2, 62.4
];
const envMax = [
  89.5, 86.0, 90.0, 72.0, 70.5, 68.0, 69.5, 71.0, 68.5, 67.0, 66.5, 68.0,
  65.5, 66.0, 65.0, 65.8, 67.5, 72.0, 76.5, 70.0, 73.5, 66.5, 75.0, 68.0,
  64.5, 68.0, 65.0, 66.5, 64.2, 67.0, 69.5, 64.0, 66.0, 65.5, 64.3, 64.0,
  66.0, 70.5, 65.5, 72.0, 74.5, 67.0, 76.0, 68.5, 75.0, 66.5, 73.0, 68.0,
  69.0, 72.5, 75.0, 70.5, 80.5, 71.0, 78.5, 73.0, 70.0, 77.0, 69.5, 68.0,
  66.5, 68.0, 70.5, 66.0, 69.0, 65.5, 68.0, 72.0, 67.0, 76.5, 79.0, 73.5,
  71.0, 73.5, 67.0, 70.0, 66.0, 68.5, 82.0, 67.5, 66.5, 69.0, 67.0, 74.5,
  70.5, 74.0, 68.0, 67.5, 71.0, 72.5, 69.0, 68.0, 70.5, 69.0, 68.0, 70.0,
  91.0, 70.0, 68.5, 69.5, 68.0, 90.0, 70.0, 69.0, 68.5, 69.5, 68.5, 91.0,
  71.5, 68.0, 67.5, 70.0, 67.5, 66.5, 69.0, 67.0, 67.5, 74.0, 73.0, 67.5,
  75.0, 74.5, 72.0, 67.0, 90.5, 68.0, 66.5, 68.5, 66.0, 67.0, 66.0, 66.5,
  66.0, 66.5, 67.5, 66.0, 68.0, 66.5, 65.5, 67.0, 66.0, 67.0, 79.0, 72.5,
  66.5, 69.5, 66.0, 67.0, 68.0, 66.0, 66.5, 68.0, 74.0, 66.5, 66.0, 67.0,
  66.0, 66.5, 65.5, 67.0, 66.0, 67.5, 66.0, 66.5, 72.0, 68.0, 75.5, 71.5,
  67.0, 66.5, 71.5, 67.0, 68.0, 71.0, 66.5, 67.5, 68.5, 69.0, 70.0, 77.5,
  68.5, 69.0, 70.5, 88.0, 93.5, 74.0, 71.0, 72.0, 89.5, 69.5, 68.0, 72.0,
  95.0, 70.0, 72.0, 87.0, 72.0, 70.5, 71.0, 73.0, 69.5, 70.0, 71.5, 68.5,
  76.0, 68.0, 66.5, 67.0, 66.0, 66.5, 66.0, 65.5, 66.5, 66.0, 72.5, 68.0,
  65.5, 66.0, 65.5, 66.0, 69.0, 65.5, 71.0, 75.0, 66.0, 68.0, 65.5, 66.0,
  68.0, 71.5, 83.0, 78.0, 73.0, 75.5, 77.0, 86.5, 81.0, 85.0, 76.5, 72.0,
  82.0, 79.0, 74.5, 70.0, 72.0, 69.0, 71.0, 68.5, 82.5, 75.5, 72.0, 70.5,
  72.0, 70.5, 75.0, 71.0, 74.0, 82.5, 78.0, 88.5, 81.0, 75.0, 72.5, 71.0,
  72.0, 88.5, 71.0, 69.0, 73.5, 68.5, 67.5, 69.5, 71.0, 68.0, 70.0, 67.0,
  66.0, 65.5, 67.5, 66.0, 68.0, 71.0, 87.0, 83.0, 80.0, 91.5, 89.5, 85.0
];

const slots = Array.from({ length: 288 }, (_, i) => i * 5);
const pts = (times, vals) => times.map((t, i) => ({ x: t, y: vals[i] }));
const peakPts = (first, second) => pts(slots.map(t => t + 2), first).concat(pts(slots.map(t => t + 4), second));
const withSpikes = (vals, extra) => pts(slots, vals).concat(pts(spikeTimes, extra)).sort((a, b) => a.x - b.x);

const pad = n => String(n).padStart(2, '0');
const tickFont = { family: "'DejaVu Sans Condensed', 'DejaVu Sans', sans-serif", size: 9 };
const labFont = { family: "'DejaVu Sans', sans-serif", size: 12 };

const bgPlugin = {
  id: 'bg',
  beforeDraw(chart) {
    const { ctx, chartArea: a } = chart;
    ctx.save();
    ctx.fillStyle = '#fff8dc';
    ctx.fillRect(a.left, a.top, a.right - a.left, a.bottom - a.top);
    ctx.restore();
  },
  afterDraw(chart) {
    const { ctx, chartArea: a } = chart;
    ctx.save();
    ctx.strokeStyle = '#000';
    ctx.lineWidth = 1.5;
    ctx.strokeRect(a.left, a.top, a.right - a.left, a.bottom - a.top);
    ctx.restore();
  }
};

function makeScales(withSeconds, xHeight, timePad) {
  const isMajorX = c => c.tick && c.tick.value % 120 === 0;
  const isMajorY = c => c.tick && (c.tick.value - 36) % 12 === 0;
  const yTicks = { stepSize: 4, font: tickFont, color: '#222', callback: v => ((v - 36) % 12 === 0 ? v : '') };
  return {
    x: {
      type: 'linear', min: 0, max: 1439,
      ticks: {
        stepSize: 30, includeBounds: false, autoSkip: false, maxRotation: 0, padding: 5,
        font: tickFont, color: '#222',
        callback: v => (v % 120 === 0 ? pad(v / 60) + ':00' + (withSeconds ? ':00' : '') : '')
      },
      grid: {
        color: c => (isMajorX(c) ? '#b0b0b0' : '#d2d2d2'),
        lineWidth: c => (isMajorX(c) ? 1.2 : 0.8),
        tickColor: '#000', tickLength: 4
      },
      border: { color: '#000', width: 1.5, dash: c => (isMajorX(c) ? [] : [1.5, 2.5]) },
      title: { display: true, text: 'time', font: labFont, color: '#000', padding: { top: 0, bottom: timePad } },
      afterFit: s => { s.height = xHeight; }
    },
    y: {
      position: 'left', min: 36, max: 108,
      ticks: Object.assign({ padding: 8 }, yTicks),
      grid: {
        color: c => (isMajorY(c) ? '#b4b4b4' : '#c4c4c4'),
        lineWidth: c => (isMajorY(c) ? 1.5 : 0.8),
        tickColor: '#000', tickLength: 4
      },
      border: { color: '#000', width: 1.5, dash: c => (isMajorY(c) ? [] : [4, 3]) },
      title: { display: true, text: 'dB SPL', font: labFont, color: '#000', padding: { top: 11, bottom: 0 } },
      afterFit: s => { s.width = 59; }
    },
    y2: {
      position: 'right', min: 36, max: 108,
      ticks: Object.assign({ padding: 7 }, yTicks),
      grid: { drawOnChartArea: false, tickColor: '#000', tickLength: 4 },
      border: { color: '#000', width: 1.5 },
      afterFit: s => { s.width = 57; }
    }
  };
}

const common = {
  responsive: false,
  animation: false,
  devicePixelRatio: 1,
  events: [],
  layout: { padding: { top: 10, left: 0, right: 0, bottom: 0 } },
  plugins: { legend: { display: false }, tooltip: { enabled: false } },
  elements: { line: { tension: 0 } }
};

const peakSet = (label, data, color, order) => ({
  label, data, showLine: false, order,
  pointStyle: 'cross', pointRadius: 2.5, pointBorderWidth: 1,
  pointBorderColor: color, pointBackgroundColor: color, borderColor: color
});
const lineSet = (label, data, color, width, order) => ({
  label, data, borderColor: color, borderWidth: width, pointRadius: 0, fill: false, order
});

new Chart(document.getElementById('top'), {
  type: 'line',
  data: {
    datasets: [
      peakSet('peak dB(Z)', peakPts(peakZ, peakZ2), 'rgba(30, 144, 255, 0.75)', 6),
      peakSet('peak dB(C)', peakPts(peakC, peakC2), 'rgba(255, 0, 255, 0.75)', 5),
      peakSet('peak dB(A)', peakPts(peakA, peakA2), 'rgba(46, 139, 87, 0.85)', 4),
      lineSet('avg dB(Z)', withSpikes(avgZ, spikeZ), '#4682b4', 1.3, 3),
      lineSet('avg dB(C)', withSpikes(avgC, spikeC), '#da70d6', 1.3, 2),
      lineSet('avg dB(A)', withSpikes(avgA, spikeA), '#9acd32', 1.3, 1)
    ]
  },
  options: Object.assign({}, common, { scales: makeScales(false, 46, 7) }),
  plugins: [bgPlugin]
});

new Chart(document.getElementById('bottom'), {
  type: 'line',
  data: {
    datasets: [
      { label: 'min', data: pts(slots, envMin), borderColor: 'rgba(235, 120, 100, 0.25)', borderWidth: 0.6, pointRadius: 0, fill: false, order: 10 },
      { label: 'max', data: pts(slots, envMax), borderColor: 'rgba(235, 120, 100, 0.3)', borderWidth: 0.6, pointRadius: 0,
        fill: 0, backgroundColor: 'rgba(235, 120, 100, 0.2)', order: 9 },
      lineSet('dB(Z)', pts(slots, botZ), '#dc143c', 1.5, 3),
      lineSet('dB(C)', pts(slots, botC), '#ff8c00', 1.5, 2),
      lineSet('dB(A)', pts(slots, botA), '#ffd700', 1.5, 1)
    ]
  },
  options: Object.assign({}, common, { layout: { padding: { top: 11, left: 0, right: 0, bottom: 0 } }, scales: makeScales(true, 51, 11) }),
  plugins: [bgPlugin]
});
</script>
</body>
</html>
